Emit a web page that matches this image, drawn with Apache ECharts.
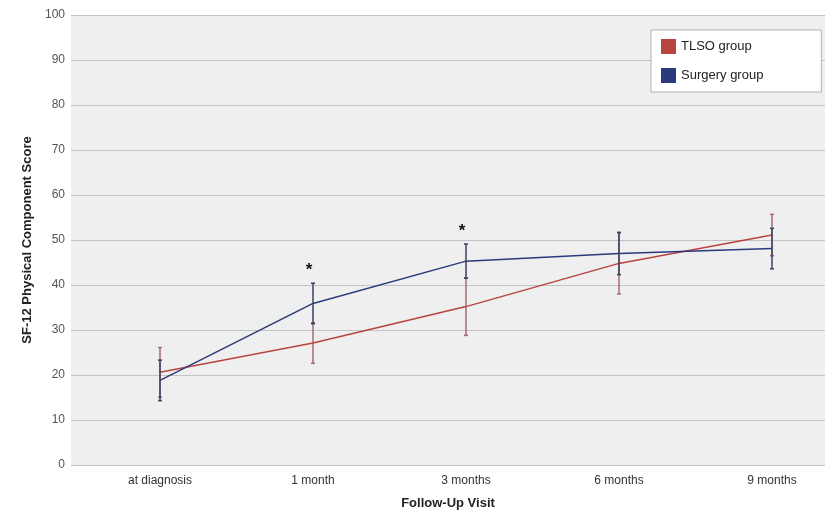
<html>
<head>
<meta charset="utf-8">
<title>SF-12 Physical Component Score</title>
<script src="https://cdn.jsdelivr.net/npm/echarts@6/dist/echarts.min.js"></script>
<style>
    body { margin: 0; background: #fff; }
    #main { width: 838px; height: 514px; }
</style>
</head>
<body>
<div id="main"></div>
<script type="text/javascript">
// data
var visits = ['at diagnosis', '1 month', '3 months', '6 months', '9 months'];
var tlsoMean = [20.6, 27.1, 35.2, 44.8, 51.1];
var tlsoErr = [5.5, 4.5, 6.4, 6.8, 4.6];
var surgeryMean = [18.8, 35.9, 45.3, 47.0, 48.1];
var surgeryErr = [4.5, 4.5, 3.8, 4.7, 4.5];
var starPoints = [[1, 43.3], [2, 51.9]];   // "*" marks above 1 and 3 months

var yTicks = { min: 0, max: 100, step: 10 };

var tlsoColor = '#b8443f';
var surgeryColor = '#2b3a7c';

var myChart = echarts.init(document.getElementById('main'));

function errData(mean, err) {
    var out = [];
    for (var i = 0; i < mean.length; i++) {
        out.push([i, mean[i] - err[i], mean[i] + err[i]]);
    }
    return out;
}

function errRender(color) {
    return function (params, api) {
        var x = api.value(0);
        var lo = api.coord([x, api.value(1)]);
        var hi = api.coord([x, api.value(2)]);
        var style = { stroke: color, lineWidth: 1.5 };
        return {
            type: 'group',
            children: [
                { type: 'line', shape: { x1: lo[0], y1: lo[1], x2: hi[0], y2: hi[1] }, style: style },
                { type: 'line', shape: { x1: lo[0] - 2, y1: lo[1], x2: lo[0] + 2, y2: lo[1] }, style: style },
                { type: 'line', shape: { x1: hi[0] - 2, y1: hi[1], x2: hi[0] + 2, y2: hi[1] }, style: style }
            ]
        };
    };
}

// asterisk text at a data position
function starRender(params, api) {
    var p = api.coord([api.value(0), api.value(1)]);
    return {
        type: 'text',
        x: p[0] - 4,
        y: p[1],
        style: {
            text: '*', fill: '#111', fontSize: 17, fontWeight: 'bold',
            align: 'center', verticalAlign: 'middle'
        }
    };
}

var option = {
    animation: false,
    textStyle: { fontFamily: 'Liberation Sans, Arial, sans-serif' },
    grid: [
        // gray plot background
        { left: 71, right: 13, top: 15, bottom: 49, show: true, backgroundColor: '#efefef', borderWidth: 0, outerBoundsMode: 'none' },
        // data area, categories placed on the figure's tick positions
        { left: 160, right: 66, top: 15, bottom: 49, outerBoundsMode: 'none' }
    ],
    legend: {
        orient: 'vertical',
        left: 651,
        top: 30,
        padding: [9, 58, 9, 10],
        itemGap: 14,
        itemWidth: 15,
        itemHeight: 15,
        icon: 'rect',
        backgroundColor: '#fff',
        borderColor: '#b0b0b0',
        borderWidth: 1,
        textStyle: { fontSize: 13, color: '#222' },
        data: ['TLSO group', 'Surgery group']
    },
    xAxis: [
        {
            gridIndex: 0, type: 'value', min: 0, max: 1,
            axisLine: { show: false }, axisTick: { show: false },
            axisLabel: { show: false }, splitLine: { show: false },
            name: 'Follow-Up Visit', nameLocation: 'middle', nameGap: 32,
            nameTextStyle: { fontSize: 13, fontWeight: 'bold', color: '#222' }
        },
        {
            gridIndex: 1, type: 'category', boundaryGap: false, data: visits,
            axisLine: { show: false }, axisTick: { show: false },
            axisLabel: { fontSize: 12, color: '#333', margin: 10 }
        }
    ],
    yAxis: [
        {
            gridIndex: 0, type: 'value', min: yTicks.min, max: yTicks.max, interval: yTicks.step,
            axisLine: { show: false }, axisTick: { show: false },
            axisLabel: { fontSize: 12, color: '#555', margin: 6 },
            splitLine: { lineStyle: { color: '#c3c3c3', width: 1 } },
            name: 'SF-12 Physical Component Score', nameLocation: 'middle', nameGap: 36,
            nameTextStyle: { fontSize: 13, fontWeight: 'bold', color: '#222' }
        },
        {
            gridIndex: 1, type: 'value', min: yTicks.min, max: yTicks.max,
            show: false
        }
    ],
    series: [
        {
            name: 'TLSO group', type: 'line', xAxisIndex: 1, yAxisIndex: 1,
            data: tlsoMean, symbol: 'none', color: tlsoColor,
            lineStyle: { width: 1.5, color: tlsoColor }
        },
        {
            name: 'Surgery group', type: 'line', xAxisIndex: 1, yAxisIndex: 1,
            data: surgeryMean, symbol: 'none', color: surgeryColor,
            lineStyle: { width: 1.5, color: surgeryColor }
        },
        {
            type: 'custom', xAxisIndex: 1, yAxisIndex: 1,
            data: errData(tlsoMean, tlsoErr),
            renderItem: errRender('#a86a78'), z: 3
        },
        {
            type: 'custom', xAxisIndex: 1, yAxisIndex: 1,
            data: errData(surgeryMean, surgeryErr),
            renderItem: errRender('#3b4060'), z: 4
        },
        {
            type: 'custom', xAxisIndex: 1, yAxisIndex: 1,
            data: starPoints, renderItem: starRender, z: 5
        }
    ]
};

myChart.setOption(option);
</script>
</body>
</html>
